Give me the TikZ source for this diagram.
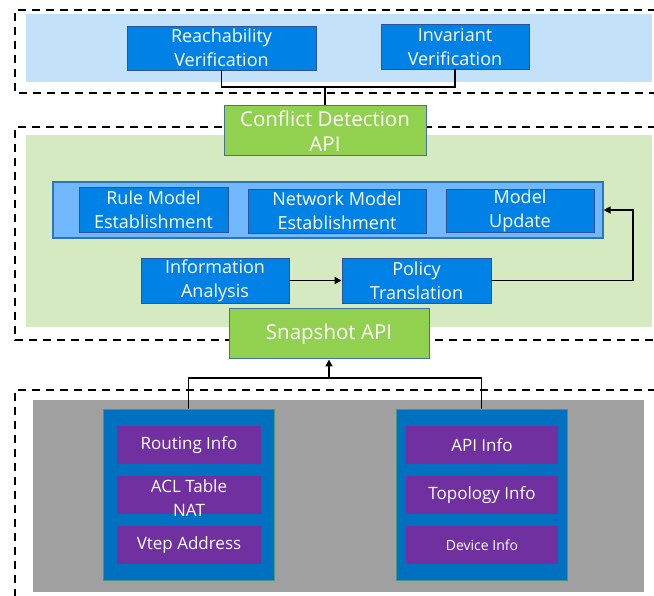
\documentclass[tikz,border=0pt]{standalone}
\usepackage{fontspec}
\setmainfont{Open Sans}
\usetikzlibrary{arrows.meta}
\definecolor{bgblue}{RGB}{196,225,250}
\definecolor{boxblue}{RGB}{0,129,230}
\definecolor{boxborder}{RGB}{46,84,150}
\definecolor{contblue}{RGB}{112,183,252}
\definecolor{contborder}{RGB}{46,117,182}
\definecolor{bggreen}{RGB}{214,234,194}
\definecolor{apigreen}{RGB}{146,208,80}
\definecolor{apiborder}{RGB}{65,113,156}
\definecolor{bggray}{RGB}{160,160,160}
\definecolor{panelblue}{RGB}{0,112,192}
\definecolor{panelborder}{RGB}{70,150,130}
\definecolor{purp}{RGB}{112,48,160}
\tikzset{
  frame/.style={draw=black, line width=1.8pt, dash pattern=on 8pt off 6pt},
  bluebox/.style={draw=boxborder, line width=0.9pt, fill=boxblue, text=white, inner sep=0pt, align=center,
    font=\fontsize{18}{24}\selectfont},
  apibox/.style={draw=apiborder, line width=1pt, fill=apigreen, text=white, inner sep=0pt, align=center,
    font=\fontsize{20.5}{25}\selectfont},
  container/.style={draw=contborder, line width=1.2pt, fill=contblue, inner sep=0pt},
  panel/.style={draw=panelborder, line width=0.5pt, fill=panelblue, inner sep=0pt},
  purpbox/.style={fill=purp, text=white, inner sep=0pt, align=center, font=\fontsize{17}{24}\selectfont},
  conn/.style={draw=black, line width=1.5pt},
  arr/.style={conn, -{Triangle[length=7pt,width=7pt]}},
}
\begin{document}
\begin{tikzpicture}[x=1pt,y=-1pt]
\useasboundingbox (0,0) rectangle (654,596);
\clip (0,0) rectangle (654,596);
% dashed frames
\draw[frame] (670,10) -- (15,10) -- (15,93) -- (670,93);
\draw[frame] (670,127) -- (15,127) -- (15,340) -- (670,340);
\draw[frame] (670,390) -- (15,390) -- (15,610);
% background fills
\fill[bgblue] (26,14) rectangle (652,82);
\fill[bggreen] (26,135) rectangle (652,327);
\fill[bggray] (33,400) rectangle (644,592);
% top layer
\node[bluebox, minimum width=189pt, minimum height=44pt] (reach) at (221.5,48) {Reachability\\Verification};
\node[bluebox, minimum width=148pt, minimum height=45pt] (inv) at (455,46.5) {Invariant\\Verification};
\node[apibox, minimum width=202pt, minimum height=50pt] (cda) at (325,131) {Conflict Detection\\API};
\coordinate (j1) at (325,87);
\draw[conn] (reach.south) |- (j1) -| (inv.south);
\draw[conn] (j1) -- (cda.north);
% middle layer
\node[container, minimum width=550pt, minimum height=56pt] (cont) at (328,210) {};
\node[bluebox, minimum width=149pt, minimum height=45pt] (rule) at (153.5,209.5) {Rule Model\\Establishment};
\node[bluebox, minimum width=178pt, minimum height=44pt] (net) at (337,211) {Network Model\\Establishment};
\node[bluebox, minimum width=148pt, minimum height=43pt] (upd) at (520,210.5) {Model\\Update};
\node[bluebox, minimum width=148pt, minimum height=45pt] (info) at (215,280.5) {Information\\Analysis};
\node[bluebox, minimum width=149pt, minimum height=45pt] (pol) at (416.5,280.5) {Policy\\Translation};
\coordinate (turn) at (633,280.5);
\draw[arr] (info.east) -- (pol.west);
\draw[arr] (pol.east) -- (turn) |- (cont.east);
\node[apibox, minimum width=200pt, minimum height=50pt] (snap) at (329,334) {Snapshot API};
% bottom layer
\node[panel, minimum width=171pt, minimum height=171pt] (lp) at (188.5,494.5) {};
\node[panel, minimum width=171pt, minimum height=171pt] (rp) at (481.5,494.5) {};
\node[purpbox, minimum width=144pt, minimum height=38pt] (routing) at (189,445) {Routing Info};
\node[fill=purp, minimum width=144pt, minimum height=38pt, inner sep=0pt] (acl) at (189,495) {};
\node[text=white, align=center, inner sep=0pt, font=\fontsize{17}{24}\selectfont] (acltext) at (189,498) {ACL Table\\NAT};
\node[purpbox, minimum width=144pt, minimum height=38pt] (vtep) at (189,545) {Vtep Address};
\node[purpbox, minimum width=152pt, minimum height=38pt] (apiinfo) at (482,445) {API Info};
\node[purpbox, minimum width=152pt, minimum height=38pt] (topo) at (482,495) {Topology Info};
\node[purpbox, minimum width=152pt, minimum height=38pt, font=\fontsize{14}{16}\selectfont] (dev) at (482,545) {Device Info};
\coordinate (j2) at (329,378);
\draw[conn] (lp.north) |- (j2) -| (rp.north);
\draw[arr] (j2) -- (snap.south);
\end{tikzpicture}
\end{document}
